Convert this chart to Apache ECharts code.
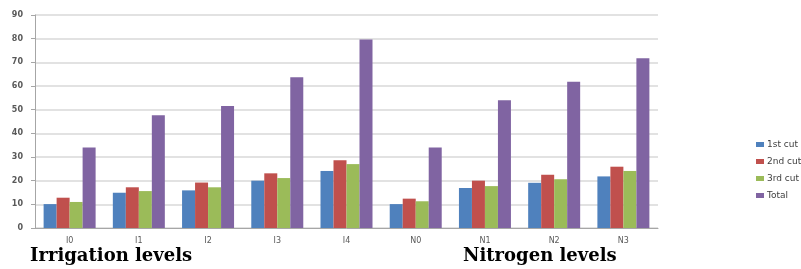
<!DOCTYPE html>
<html>
<head>
<meta charset="utf-8">
<script src="https://cdn.jsdelivr.net/npm/echarts@6/dist/echarts.min.js"></script>
<style>
html, body { margin: 0; padding: 0; background: #fff; }
#mychart { width: 801px; height: 269px; }
</style>
</head>
<body>
<div id="mychart"></div>
<script>
// 数据
var categories = ['I0', 'I1', 'I2', 'I3', 'I4', 'N0', 'N1', 'N2', 'N3'];
var cut1 = [10.1, 14.9, 15.9, 20, 24.1, 10.1, 16.9, 19.1, 21.8];
var cut2 = [12.8, 17.2, 19.2, 23.1, 28.6, 12.4, 20, 22.5, 25.9];
var cut3 = [11, 15.6, 17.2, 21.1, 27, 11.3, 17.7, 20.6, 24.1];
var total = [34, 47.6, 51.5, 63.7, 79.6, 34, 54, 61.8, 71.7];
var seriesNames = ['1st cut', '2nd cut', '3rd cut', 'Total'];
var yTicks = [0, 90, 10];

var myChart = echarts.init(document.getElementById('mychart'));
var lblColor = '#595959';
var seriesData = [cut1, cut2, cut3, total];
var series = [];
for (var i = 0; i < seriesData.length; i++) {
    series.push({
        name: seriesNames[i],
        type: 'bar',
        barWidth: 13,
        barGap: '0%',
        data: seriesData[i]
    });
}

myChart.setOption({
    animation: false,
    color: ['#4F81BD', '#C0504D', '#9BBB59', '#8064A2'],
    grid: { left: 35, right: 143, top: 15, bottom: 41 },
    legend: {
        orient: 'vertical',
        left: 751,
        top: 135,
        itemWidth: 8,
        itemHeight: 5,
        itemGap: 8,
        icon: 'rect',
        data: seriesNames,
        textStyle: { fontSize: 9, color: '#404040', fontFamily: 'DejaVu Sans', padding: [0, 0, 0, -2] }
    },
    xAxis: {
        type: 'category',
        data: categories,
        axisLine: { lineStyle: { color: '#a6a6a6', width: 1 } },
        axisTick: { length: 4, lineStyle: { color: '#a6a6a6' } },
        axisLabel: { fontSize: 8, color: lblColor, fontFamily: 'DejaVu Sans', margin: 9 }
    },
    yAxis: {
        type: 'value',
        min: yTicks[0],
        max: yTicks[1],
        interval: yTicks[2],
        axisLine: { show: true, lineStyle: { color: '#a6a6a6', width: 1 } },
        axisTick: { show: true, length: 4, lineStyle: { color: '#a6a6a6' } },
        splitLine: { lineStyle: { color: '#d9d9d9', width: 1.5 } },
        axisLabel: { fontSize: 8, fontWeight: 'bold', color: lblColor, fontFamily: 'DejaVu Sans', margin: 12 }
    },
    graphic: [
        {
            type: 'text', left: 30, top: 247,
            style: { text: 'Irrigation levels', font: 'bold 18px "DejaVu Serif"', fill: '#000' }
        },
        {
            type: 'text', left: 463, top: 247,
            style: { text: 'Nitrogen levels', font: 'bold 18px "DejaVu Serif"', fill: '#000' }
        }
    ],
    series: series
});
</script>
</body>
</html>
